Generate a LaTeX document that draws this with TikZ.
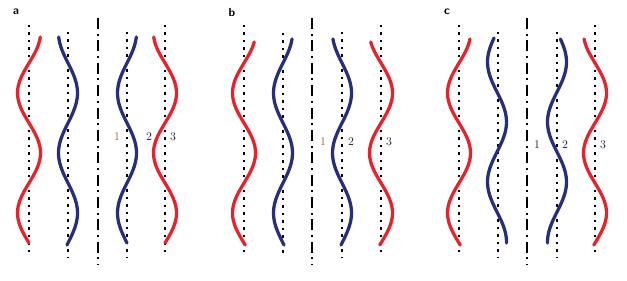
\documentclass[tikz,border=0pt]{standalone}
\definecolor{wavered}{RGB}{232,34,42}
\definecolor{waveblue}{RGB}{38,48,122}
\definecolor{numdark}{RGB}{30,30,60}
\definecolor{numbrown}{RGB}{170,95,40}
\tikzset{
  guide/.style={line width=1.8pt, dash pattern=on 1.8pt off 4.6pt},
  axisline/.style={line width=2.1pt, dash pattern=on 9.4pt off 4pt on 1.7pt off 4pt},
  wave/.style={line width=2.8pt, line cap=round, line join=round},
  tag/.style={font=\sffamily\bfseries\normalsize},
  num/.style={font=\normalsize, text=numdark}
}
\begin{document}
\begin{tikzpicture}[x=0.03cm, y=-0.03cm]
    \useasboundingbox (0,0) rectangle (627,280);
    % panel letters
    \node[tag] (tagA) at (16,12) {a};
    \node[tag] (tagB) at (232,12) {b};
    \node[tag] (tagC) at (447,12) {c};
    % symmetry axes
    \foreach \x in {98,312,527} \draw[axisline] (\x,18) -- (\x,265);
    % dotted rest positions
    \foreach \x/\t in {29/25,68/32,127/32,165/25,244/25,283/33,342/32,381/25,459/25,498/32,557/32,595/25}
        \draw[guide] (\x,\t) -- (\x,257);
    % waves: centre/sign/phase/top/bottom/colour/amplitude
    \foreach \c/\s/\p/\t/\b/\col/\A in {
        29/1/153/37/243/wavered/11.5, 68/-1/153/37/245/waveblue/9.5,
        127/1/153/37/243/waveblue/9.5, 165/-1/153/37/243/wavered/11.5,
        244/1/153/42/245/wavered/11.5, 283/1/153/39/245/waveblue/9.5,
        342/-1/153/39/245/waveblue/9.5, 381/-1/153/42/245/wavered/11.5,
        459/1/153/39/245/wavered/11.5, 497/1/122/38/243/waveblue/9.5,
        557/-1/122/39/243/waveblue/9.5, 595/-1/153/39/245/wavered/11.5}
        \draw[wave, \col, domain=\t:\b, samples=80, smooth, variable=\v]
            plot ({\c+\s*\A*cos(3*(\v-\p))}, \v);
    % mode numbers
    \node[num, text=numbrown] (a1) at (117,137) {1};
    \node[num] (a2) at (149,137) {2};
    \node[num] (a3) at (173,137) {3};
    \node[num, text=numbrown] (b1) at (323,142) {1};
    \node[num] (b2) at (351,142) {2};
    \node[num] (b3) at (389,142) {3};
    \node[num] (c1) at (537,145) {1};
    \node[num] (c2) at (565,145) {2};
    \node[num] (c3) at (603,145) {3};
\end{tikzpicture}
\end{document}
